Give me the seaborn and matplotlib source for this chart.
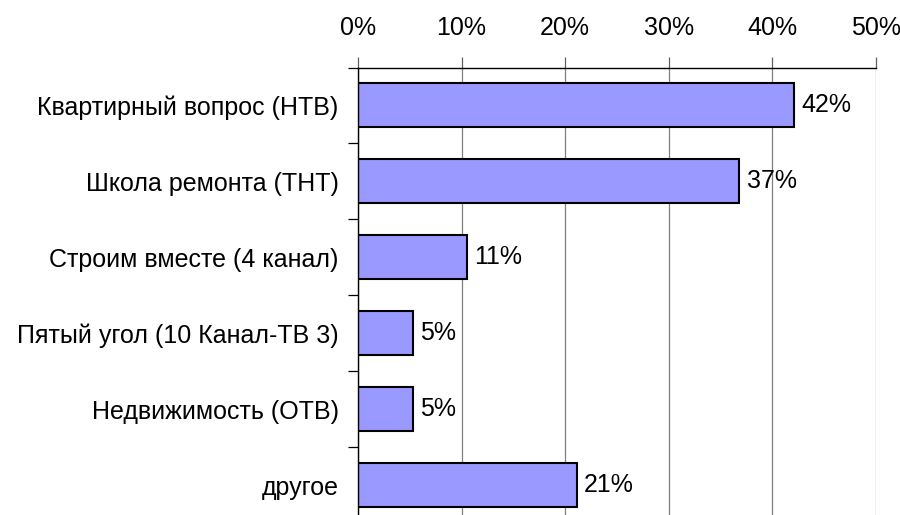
import matplotlib
matplotlib.use("Agg")
import matplotlib.pyplot as plt
import seaborn as sns
import pandas as pd
from matplotlib.ticker import PercentFormatter, FixedLocator

categories = [
    "Квартирный вопрос (НТВ)",
    "Школа ремонта (ТНТ)",
    "Строим вместе (4 канал)",
    "Пятый угол (10 Канал-ТВ 3)",
    "Недвижимость (ОТВ)",
    "другое",
]
values = [42.1, 36.8, 10.5, 5.3, 5.3, 21.1]
labels = ["42%", "37%", "11%", "5%", "5%", "21%"]

sns.set_theme(style="white")
plt.rcParams["font.family"] = ["Liberation Sans", "DejaVu Sans"]

df = pd.DataFrame({"show": categories, "share": values})

fig = plt.figure(figsize=(9, 5.15), dpi=100)
ax = fig.add_axes([358 / 900, 1 - 523 / 515, (876 - 358) / 900, (523 - 67.5) / 515])

sns.barplot(data=df, y="show", x="share", orient="h", color="#9999FF",
            saturation=1, edgecolor="black", linewidth=1.5, width=0.58, ax=ax)

for i, (v, lab) in enumerate(zip(values, labels)):
    ax.text(v + 0.7, i, lab, va="center", ha="left", fontsize=18, color="black")

ax.set_xlim(0, 50)
ax.set_ylim(5.5, -0.5)
ax.xaxis.tick_top()
ax.xaxis.set_label_position("top")
ax.set_xticks(range(0, 51, 10))
ax.xaxis.set_major_formatter(PercentFormatter(decimals=0))
ax.set_xlabel("")
ax.set_ylabel("")
ax.grid(axis="x", color="#808080", linewidth=0.9)
ax.set_axisbelow(True)

ax.tick_params(axis="x", which="major", top=True, bottom=False, length=8,
               width=0.9, color="#606060", labelsize=18, pad=12, labelcolor="black")
ax.tick_params(axis="y", which="major", length=0, labelsize=18, pad=14, labelcolor="black")
ax.yaxis.set_minor_locator(FixedLocator([i - 0.5 for i in range(len(categories) + 1)]))
ax.tick_params(axis="y", which="minor", left=True, length=7, width=0.9, color="black")

for s in ["right", "bottom"]:
    ax.spines[s].set_visible(False)
for s in ["top", "left"]:
    ax.spines[s].set_color("black")
    ax.spines[s].set_linewidth(1.0)

fig.savefig("out.png", dpi=100)
